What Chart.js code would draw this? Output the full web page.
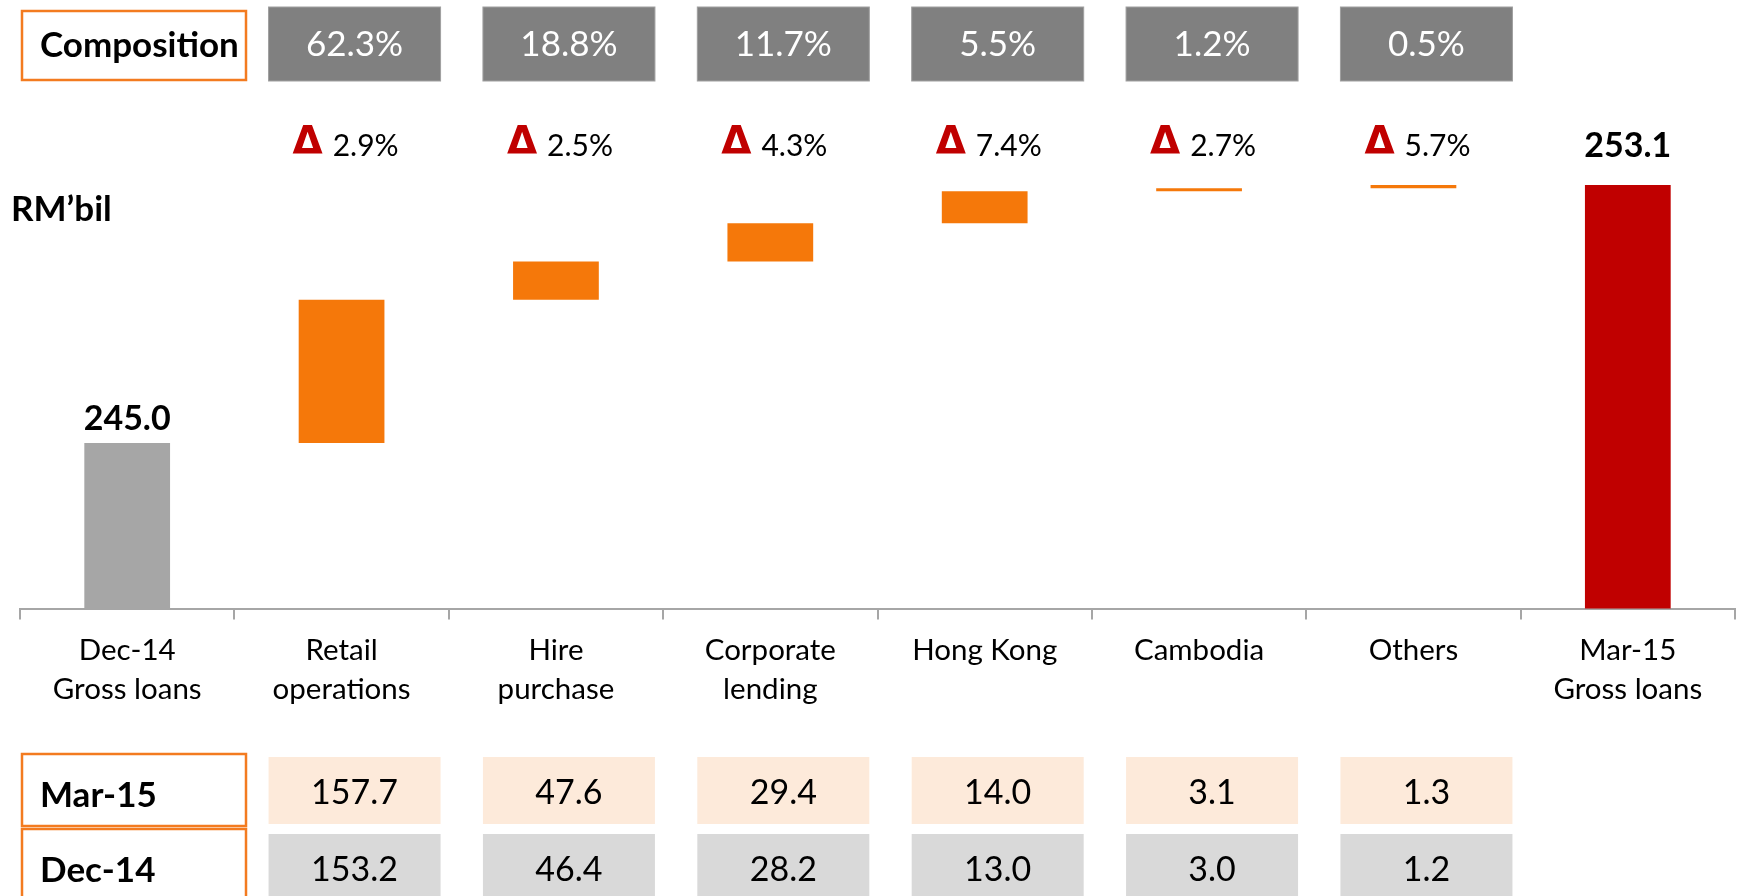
<!DOCTYPE html>
<html>
<head>
<meta charset="utf-8">
<script src="https://cdn.jsdelivr.net/npm/chart.js@4.4.1/dist/chart.umd.min.js"></script>
<style>
  body { margin: 0; background: #fff; }
  canvas { display: block; }
</style>
</head>
<body>
<canvas id="chartCanvas" width="1738" height="896"></canvas>
<script>
// data
var categories = [['Dec-14', 'Gross loans'], ['Retail', 'operations'], ['Hire', 'purchase'],
  ['Corporate', 'lending'], ['Hong Kong'], ['Cambodia'], ['Others'], ['Mar-15', 'Gross loans']];
var segments = ['Retail operations', 'Hire purchase', 'Corporate lending', 'Hong Kong', 'Cambodia', 'Others'];
var mar15 = [157.7, 47.6, 29.4, 14.0, 3.1, 1.3];
var dec14 = [153.2, 46.4, 28.2, 13.0, 3.0, 1.2];
var composition = ['62.3%', '18.8%', '11.7%', '5.5%', '1.2%', '0.5%'];
var growth = ['2.9%', '2.5%', '4.3%', '7.4%', '2.7%', '5.7%'];
var startTotal = 245.0;
var endTotal = 253.1;

var FONT = 'Lato, "Open Sans", sans-serif';
var ORANGE = '#F5780A';
var BOX_ORANGE = '#F37B20';

function buildBars() {
  var bars = [startTotal];
  var running = startTotal;
  for (var i = 0; i < mar15.length; i++) {
    var d = Math.round((mar15[i] - dec14[i]) * 10) / 10;
    bars.push([running, running + d]);
    running = running + d;
  }
  bars.push(endTotal);
  return bars;
}

function barColors() {
  var c = ['#A6A6A6'];
  for (var i = 0; i < segments.length; i++) c.push(ORANGE);
  c.push('#C00000');
  return c;
}

var overlay = {
  id: 'overlay',
  afterDraw: function(chart) {
    var ctx = chart.ctx, xs = chart.scales.x;
    var meta = chart.getDatasetMeta(0);
    ctx.save();

    // composition row
    ctx.strokeStyle = BOX_ORANGE;
    ctx.lineWidth = 2.5;
    ctx.strokeRect(22, 11, 224, 69);
    ctx.fillStyle = '#000';
    ctx.font = 'bold 35px ' + FONT;
    ctx.textBaseline = 'middle';
    ctx.textAlign = 'left';
    ctx.fillText('Composition', 40, 46);

    for (var i = 0; i < composition.length; i++) {
      var cx = xs.getPixelForValue(i + 1) + 13;
      ctx.fillStyle = '#808080';
      ctx.fillRect(cx - 86, 7, 172, 74);
      ctx.strokeStyle = '#A0A0A0';
      ctx.lineWidth = 1;
      ctx.strokeRect(cx - 86, 7, 172, 74);
      ctx.fillStyle = '#fff';
      ctx.font = '35px ' + FONT;
      ctx.textAlign = 'center';
      ctx.fillText(composition[i], cx, 45);
    }

    // growth row
    var deltaFont = 'bold 39px "DejaVu Sans"';
    for (var j = 0; j < growth.length; j++) {
      var gx = xs.getPixelForValue(j + 1) + 4;
      ctx.font = deltaFont;
      var tw = ctx.measureText('\u0394').width;
      ctx.font = '30px ' + FONT;
      var vw = ctx.measureText(growth[j]).width;
      var left = gx - (tw + 10 + vw) / 2;
      ctx.textAlign = 'left';
      ctx.fillStyle = '#C00000';
      ctx.font = deltaFont;
      ctx.fillText('\u0394', left, 144);
      ctx.fillStyle = '#000';
      ctx.font = '30px ' + FONT;
      ctx.fillText(growth[j], left + tw + 10, 146);
    }

    // unit
    ctx.font = 'bold 35px ' + FONT;
    ctx.textAlign = 'left';
    ctx.fillText('RM\u2019bil', 11, 210);

    // totals above the end bars
    ctx.font = 'bold 34px ' + FONT;
    ctx.textAlign = 'center';
    ctx.textBaseline = 'bottom';
    var first = meta.data[0], last = meta.data[meta.data.length - 1];
    ctx.fillText(startTotal.toFixed(1), first.x, first.y - 7);
    ctx.fillText(endTotal.toFixed(1), last.x, last.y - 22);

    // table
    var rows = [{ label: 'Mar-15', vals: mar15, fill: '#FDEADA', top: 757, h: 67, boxTop: 754 },
                { label: 'Dec-14', vals: dec14, fill: '#D9D9D9', top: 834, h: 66, boxTop: 829 }];
    ctx.textBaseline = 'middle';
    rows.forEach(function(r) {
      ctx.strokeStyle = BOX_ORANGE;
      ctx.lineWidth = 2.5;
      ctx.strokeRect(22, r.boxTop, 224, 72);
      ctx.fillStyle = '#000';
      ctx.font = 'bold 35px ' + FONT;
      ctx.textAlign = 'left';
      ctx.fillText(r.label, 40, r.boxTop + 42);
      for (var k = 0; k < r.vals.length; k++) {
        var tx = xs.getPixelForValue(k + 1) + 13;
        ctx.fillStyle = r.fill;
        ctx.fillRect(tx - 86, r.top, 172, r.h);
        ctx.fillStyle = '#000';
        ctx.font = '34px ' + FONT;
        ctx.textAlign = 'center';
        ctx.fillText(r.vals[k].toFixed(1), tx, r.top + r.h / 2 + 3);
      }
    });
    ctx.restore();
  }
};

var ctx = document.getElementById('chartCanvas').getContext('2d');
new Chart(ctx, {
  type: 'bar',
  data: {
    labels: categories,
    datasets: [{
      data: buildBars(),
      backgroundColor: barColors(),
      borderWidth: 0,
      barPercentage: 0.4,
      categoryPercentage: 1.0
    }]
  },
  options: {
    responsive: false,
    animation: false,
    layout: { padding: { top: 124.5, bottom: 176, left: 20, right: 3 } },
    plugins: { legend: { display: false }, tooltip: { enabled: false } },
    scales: {
      y: { display: false, min: 239.8, max: 255 },
      x: {
        border: { color: '#A6A6A6', width: 2 },
        grid: { drawOnChartArea: false, drawTicks: true, tickLength: 11, color: '#A6A6A6', lineWidth: 2, offset: true },
        ticks: { color: '#000', padding: 11, font: { family: FONT, size: 29.5, lineHeight: 1.33 }, maxRotation: 0, autoSkip: false }
      }
    }
  },
  plugins: [overlay]
});
</script>
</body>
</html>
